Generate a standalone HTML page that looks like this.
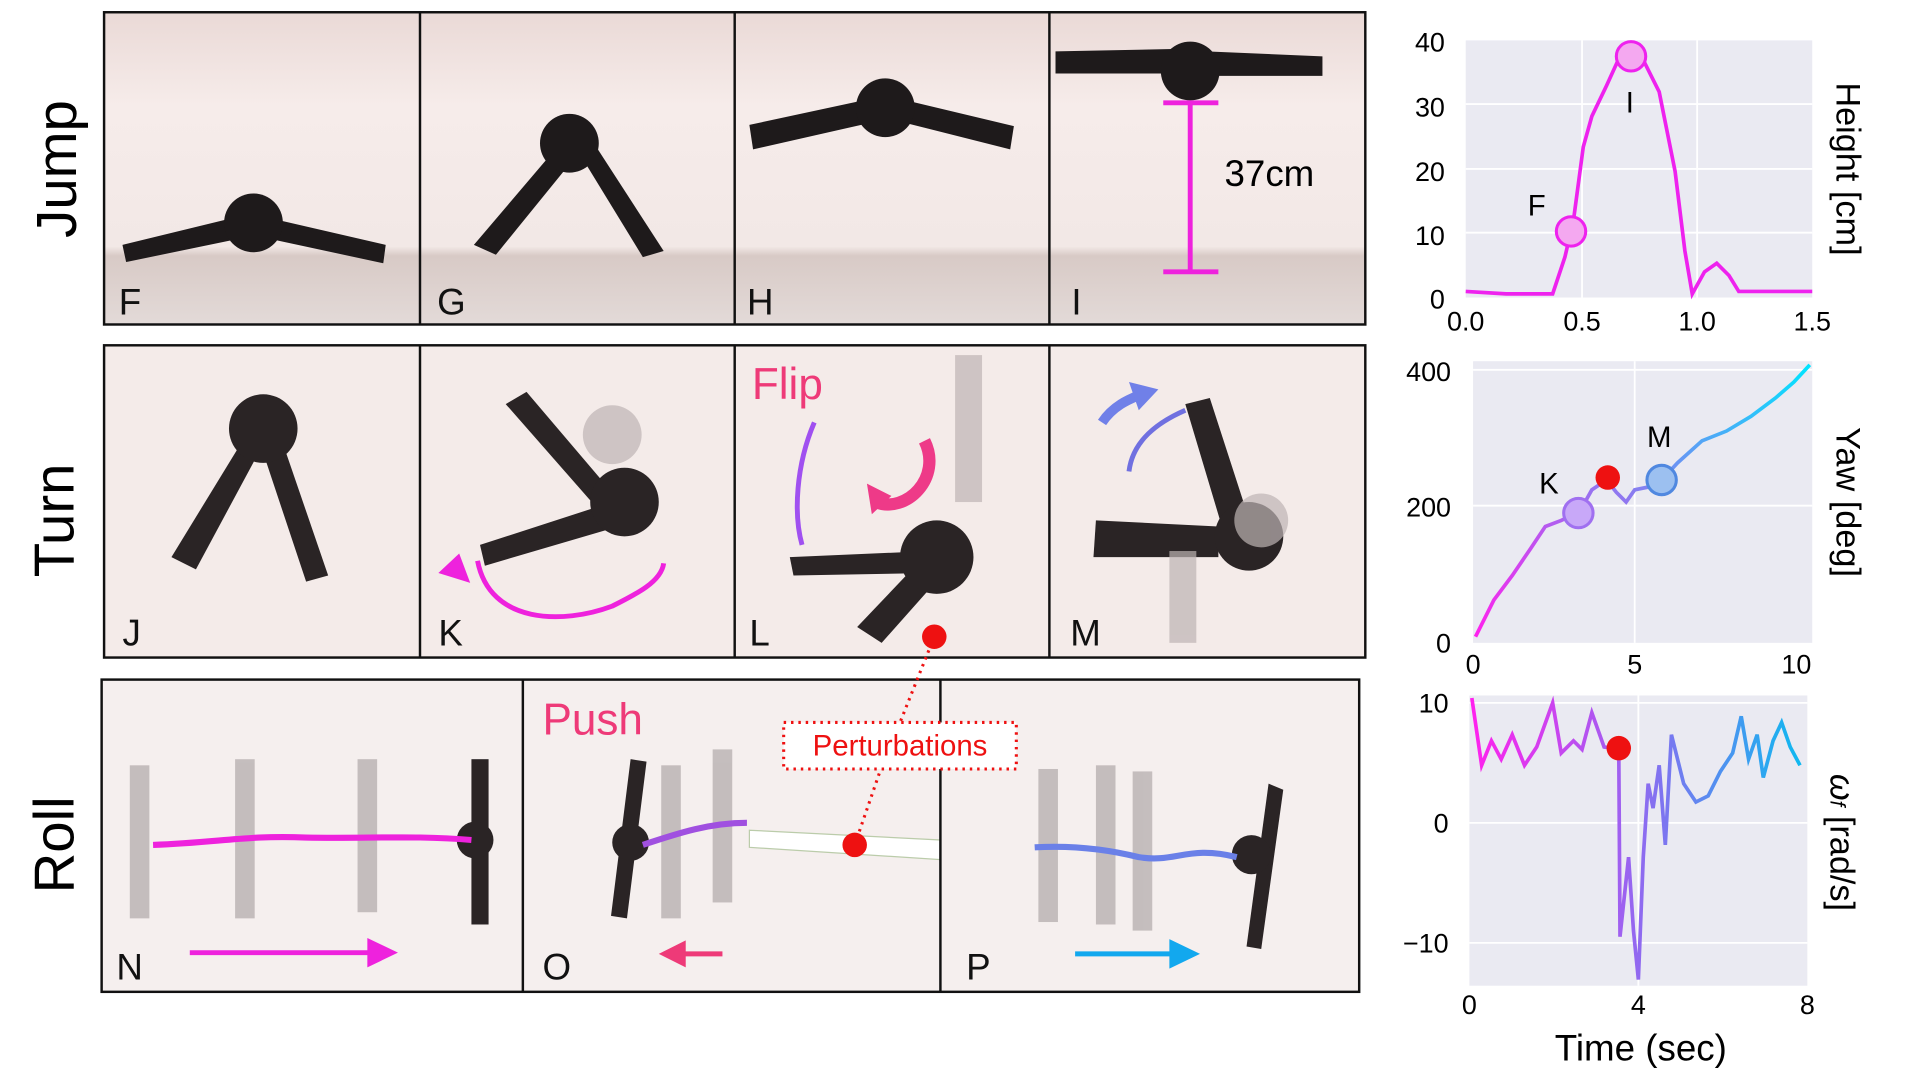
<!DOCTYPE html>
<html><head><style>html,body{margin:0;padding:0;background:#fff;overflow:hidden}svg{display:block}</style></head><body>
<svg width="1920" height="1080" viewBox="0 0 1568 882" preserveAspectRatio="none" xmlns="http://www.w3.org/2000/svg" font-family="Liberation Sans, sans-serif">
<defs>
<linearGradient id="jw" x1="0" y1="0" x2="0" y2="1"><stop offset="0" stop-color="#ead9d6"/><stop offset="0.3" stop-color="#f6ecea"/><stop offset="0.75" stop-color="#f2e8e6"/><stop offset="0.78" stop-color="#d8cac6"/><stop offset="1" stop-color="#e3dad8"/></linearGradient>
<linearGradient id="yg" x1="0" y1="1" x2="1" y2="0"><stop offset="0" stop-color="#ff22ee"/><stop offset="0.5" stop-color="#8a7cf0"/><stop offset="1" stop-color="#00e5ff"/></linearGradient>
<linearGradient id="wg" x1="0" y1="0" x2="1" y2="0"><stop offset="0" stop-color="#ff22ee"/><stop offset="0.45" stop-color="#a060f0"/><stop offset="1" stop-color="#10b8f0"/></linearGradient>
</defs>
<!-- Row labels -->
<text x="0" y="0" font-size="46" transform="translate(62,138) rotate(-90)" text-anchor="middle">Jump</text>
<text x="0" y="0" font-size="46" transform="translate(60,425) rotate(-90)" text-anchor="middle">Turn</text>
<text x="0" y="0" font-size="46" transform="translate(60,690) rotate(-90)" text-anchor="middle">Roll</text>

<!-- Jump row -->
<rect x="85" y="10" width="1030" height="255" fill="url(#jw)"/>
<g fill="#1e1a1b">
<polygon points="100,200 190,178 195,195 103,214"/><polygon points="220,178 315,200 313,215 220,195"/><circle cx="207" cy="182" r="24"/>
<polygon points="455,120 470,128 405,208 387,200"/><polygon points="470,120 487,120 542,205 525,210"/><circle cx="465" cy="117" r="24"/>
<polygon points="612,102 705,82 712,100 615,122"/><polygon points="740,82 828,103 825,122 738,100"/><circle cx="723" cy="88" r="24"/>
<polygon points="862,42 958,40 960,60 862,60"/><polygon points="985,42 1080,46 1080,62 985,62"/><circle cx="972" cy="58" r="24"/>
</g>
<g stroke="#ee22dd" stroke-width="4" fill="none"><line x1="972" y1="84" x2="972" y2="222"/><line x1="950" y1="84" x2="995" y2="84"/><line x1="950" y1="222" x2="995" y2="222"/></g>
<text x="1000" y="152" font-size="30">37cm</text>
<g font-size="30" fill="#111"><text x="97" y="257">F</text><text x="357" y="257">G</text><text x="610" y="257">H</text><text x="875" y="257">I</text></g>
<g stroke="#111" stroke-width="2" fill="none"><rect x="85" y="10" width="1030" height="255"/><line x1="343" y1="10" x2="343" y2="265"/><line x1="600" y1="10" x2="600" y2="265"/><line x1="857" y1="10" x2="857" y2="265"/></g>

<!-- Turn row -->
<rect x="85" y="282" width="1030" height="255" fill="#f4ebe9"/>
<g fill="#2a2425">
<polygon points="195,365 210,372 160,465 140,455"/><polygon points="215,370 232,365 268,470 250,475"/><circle cx="215" cy="350" r="28"/>
<polygon points="413,330 430,320 498,400 485,412"/><polygon points="392,445 500,410 505,430 396,462"/><circle cx="510" cy="410" r="28"/>
<polygon points="645,455 760,450 760,468 648,470"/><polygon points="740,470 760,480 720,525 700,512"/><circle cx="765" cy="455" r="30"/>
<polygon points="968,330 988,325 1022,430 1000,437"/><polygon points="895,425 995,430 995,455 893,455"/><circle cx="1020" cy="438" r="28"/>
</g>
<g fill="#bdb4b3" opacity="0.7"><circle cx="500" cy="355" r="24"/><rect x="780" y="290" width="22" height="120"/><circle cx="1030" cy="425" r="22"/><rect x="955" y="450" width="22" height="75"/></g>
<path d="M390,458 C400,510 460,510 500,495 C520,485 540,475 542,460" stroke="#ee22dd" stroke-width="4" fill="none"/>
<polygon points="358,468 375,452 384,476" fill="#ee22dd"/>
<path d="M665,345 C650,380 648,420 655,445" stroke="#a050f0" stroke-width="4" fill="none"/>
<path d="M715,410 C740,420 770,390 755,360" stroke="#ee3a88" stroke-width="10" fill="none"/>
<polygon points="708,395 728,405 712,420" fill="#ee3a88"/>
<path d="M922,385 C925,360 945,345 968,335" stroke="#7070e0" stroke-width="4" fill="none"/>
<path d="M900,345 C910,330 925,325 932,322" stroke="#7080e8" stroke-width="8" fill="none"/><polygon points="922,312 946,318 930,335" fill="#7080e8"/>
<text x="614" y="326" font-size="36" fill="#ee3a78">Flip</text>
<g font-size="30" fill="#111"><text x="100" y="527">J</text><text x="358" y="527">K</text><text x="612" y="527">L</text><text x="874" y="527">M</text></g>
<g stroke="#111" stroke-width="2" fill="none"><rect x="85" y="282" width="1030" height="255"/><line x1="343" y1="282" x2="343" y2="537"/><line x1="600" y1="282" x2="600" y2="537"/><line x1="857" y1="282" x2="857" y2="537"/></g>

<!-- Roll row -->
<rect x="83" y="555" width="1027" height="255" fill="#f5efee"/>
<g fill="#b9b1b1" opacity="0.8">
<rect x="106" y="625" width="16" height="125"/><rect x="192" y="620" width="16" height="130"/><rect x="292" y="620" width="16" height="125"/>
<rect x="540" y="625" width="16" height="125"/><rect x="582" y="612" width="16" height="125"/>
<rect x="848" y="628" width="16" height="125"/><rect x="895" y="625" width="16" height="130"/><rect x="925" y="630" width="16" height="130"/>
</g>
<g fill="#2a2425"><rect x="385" y="620" width="14" height="135"/><circle cx="388" cy="686" r="15"/>
<polygon points="515,620 528,622 512,750 499,748"/><circle cx="515" cy="688" r="15"/>
<polygon points="1036,640 1048,645 1030,775 1018,773"/><circle cx="1022" cy="698" r="16"/></g>
<path d="M125,690 C180,688 200,682 250,684 C300,685 340,682 385,686" stroke="#ee22dd" stroke-width="5" fill="none"/>
<path d="M525,690 C555,680 580,672 610,672" stroke="#a050e0" stroke-width="5" fill="none"/>
<polygon points="612,678 768,686 768,702 612,692" fill="#fff" stroke="#bca" stroke-width="1"/>
<path d="M845,692 C880,690 910,695 930,700 C960,705 970,690 1010,700" stroke="#6a80e8" stroke-width="5" fill="none"/>
<text x="443" y="600" font-size="36" fill="#ee3a78">Push</text>
<g stroke-width="4"><line x1="155" y1="778" x2="305" y2="778" stroke="#ee22dd"/><line x1="555" y1="779" x2="590" y2="779" stroke="#ee3a78"/><line x1="878" y1="779" x2="960" y2="779" stroke="#12a8ee"/></g>
<polygon points="300,766 325,778 300,790" fill="#ee22dd"/><polygon points="560,768 538,779 560,790" fill="#ee3a78"/><polygon points="955,767 980,779 955,791" fill="#12a8ee"/>
<g font-size="30" fill="#111"><text x="95" y="800">N</text><text x="443" y="800">O</text><text x="789" y="800">P</text></g>
<g stroke="#111" stroke-width="2" fill="none"><rect x="83" y="555" width="1027" height="255"/><line x1="427" y1="555" x2="427" y2="810"/><line x1="768" y1="555" x2="768" y2="810"/></g>

<!-- perturbations -->
<g stroke="#ee1111" stroke-width="2.5" stroke-dasharray="2,4" fill="none"><line x1="763" y1="520" x2="735" y2="590"/><line x1="720" y1="626" x2="698" y2="690"/><rect x="640" y="590" width="190" height="38" fill="#fff"/></g>
<text x="735" y="617" font-size="24" fill="#ee1111" text-anchor="middle">Perturbations</text>
<circle cx="763" cy="520" r="10" fill="#ee1111"/><circle cx="698" cy="690" r="10" fill="#ee1111"/>

<!-- Height plot -->
<rect x="1197" y="33" width="283" height="210" fill="#eaeaf2"/>
<g stroke="#fff" stroke-width="1.5"><line x1="1197" y1="85" x2="1480" y2="85"/><line x1="1197" y1="138" x2="1480" y2="138"/><line x1="1197" y1="190" x2="1480" y2="190"/><line x1="1292" y1="33" x2="1292" y2="243"/><line x1="1386" y1="33" x2="1386" y2="243"/></g>
<path d="M1197,238 L1230,240 L1268,240 L1278,210 L1285,180 L1293,120 L1300,95 L1312,70 L1322,48 L1340,45 L1355,75 L1368,140 L1376,205 L1382,240 L1392,222 L1402,215 L1412,225 L1420,238 L1480,238" stroke="#ee22ee" stroke-width="3" fill="none"/>
<circle cx="1283" cy="189" r="12" fill="#f4a8f0" stroke="#ee22ee" stroke-width="2.5"/><circle cx="1332" cy="46" r="12" fill="#f4a8f0" stroke="#ee22ee" stroke-width="2.5"/>
<text x="1255" y="176" font-size="24" text-anchor="middle">F</text><text x="1331" y="92" font-size="24" text-anchor="middle">I</text>
<g font-size="22" text-anchor="end"><text x="1180" y="42">40</text><text x="1180" y="95">30</text><text x="1180" y="148">20</text><text x="1180" y="200">10</text><text x="1180" y="252">0</text></g>
<g font-size="22" text-anchor="middle"><text x="1197" y="270">0.0</text><text x="1292" y="270">0.5</text><text x="1386" y="270">1.0</text><text x="1480" y="270">1.5</text></g>
<text transform="translate(1500,138) rotate(90)" font-size="28" text-anchor="middle">Height [cm]</text>

<!-- Yaw plot -->
<rect x="1203" y="295" width="277" height="230" fill="#eaeaf2"/>
<g stroke="#fff" stroke-width="1.5"><line x1="1203" y1="302" x2="1480" y2="302"/><line x1="1203" y1="413" x2="1480" y2="413"/><line x1="1335" y1="295" x2="1335" y2="525"/></g>
<path d="M1205,520 L1220,490 L1235,470 L1250,448 L1262,430 L1275,425 L1290,418 L1300,400 L1312,392 L1320,402 L1328,410 L1335,400 L1345,398 L1357,392 L1370,378 L1390,360 L1410,352 L1430,340 L1450,325 L1465,312 L1478,298" stroke="url(#yg)" stroke-width="3" fill="none"/>
<circle cx="1289" cy="419" r="12" fill="#c8a8f8" stroke="#a070f0" stroke-width="2.5"/><circle cx="1357" cy="392" r="12" fill="#9cc0f0" stroke="#5088e0" stroke-width="2.5"/>
<circle cx="1313" cy="390" r="10" fill="#ee1111"/>
<text x="1265" y="403" font-size="24" text-anchor="middle">K</text><text x="1355" y="365" font-size="24" text-anchor="middle">M</text>
<g font-size="22" text-anchor="end"><text x="1185" y="311">400</text><text x="1185" y="422">200</text><text x="1185" y="533">0</text></g>
<g font-size="22" text-anchor="middle"><text x="1203" y="550">0</text><text x="1335" y="550">5</text><text x="1467" y="550">10</text></g>
<text transform="translate(1500,410) rotate(90)" font-size="28" text-anchor="middle">Yaw [deg]</text>

<!-- omega plot -->
<rect x="1200" y="568" width="276" height="237" fill="#eaeaf2"/>
<g stroke="#fff" stroke-width="1.5"><line x1="1200" y1="574" x2="1476" y2="574"/><line x1="1200" y1="672" x2="1476" y2="672"/><line x1="1200" y1="770" x2="1476" y2="770"/><line x1="1338" y1="568" x2="1338" y2="805"/></g>
<path d="M1202,570 L1210,625 L1218,605 L1226,620 L1235,600 L1245,625 L1255,610 L1268,574 L1275,615 L1285,605 L1292,612 L1300,582 L1310,610 L1322,612 L1323,765 L1330,700 L1334,760 L1338,800 L1342,700 L1346,640 L1350,660 L1355,625 L1360,690 L1365,600 L1375,640 L1385,655 L1395,650 L1405,630 L1415,615 L1422,585 L1428,620 L1435,600 L1440,635 L1448,605 L1455,590 L1462,610 L1470,625" stroke="url(#wg)" stroke-width="3" fill="none"/>
<circle cx="1322" cy="611" r="10" fill="#ee1111"/>
<g font-size="22" text-anchor="end"><text x="1183" y="582">10</text><text x="1183" y="680">0</text><text x="1183" y="778">−10</text></g>
<g font-size="22" text-anchor="middle"><text x="1200" y="828">0</text><text x="1338" y="828">4</text><text x="1476" y="828">8</text></g>
<text transform="translate(1495,688) rotate(90)" font-size="28" text-anchor="middle" font-style="italic">ω<tspan font-size="17" font-style="italic">f</tspan><tspan font-style="normal"> [rad/s]</tspan></text>
<text x="1340" y="866" font-size="30" text-anchor="middle">Time (sec)</text>
</svg>
</body></html>
